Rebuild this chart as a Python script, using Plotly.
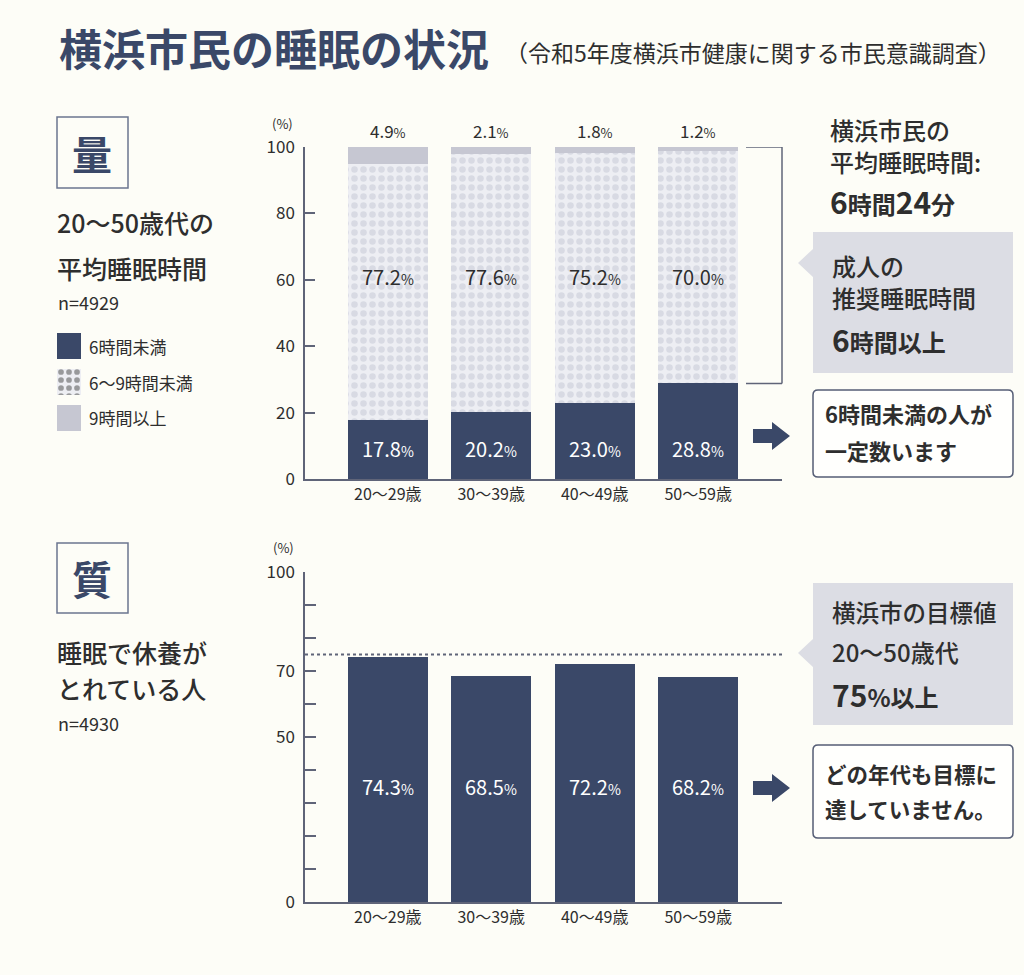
import plotly.graph_objects as go

W, H = 1024, 975


def X(p):
    return p / W


def Y(p):
    return 1 - p / H


# ---------------- data ----------------
age_groups = ["20～29歳", "30～39歳", "40～49歳", "50～59歳"]
sleep_under6 = [17.8, 20.2, 23.0, 28.8]
sleep_6to9 = [77.2, 77.6, 75.2, 70.0]
sleep_over9 = [4.9, 2.1, 1.8, 1.2]
rested = [74.3, 68.5, 72.2, 68.2]
target_rested = 75
top_tickvals = [0, 20, 40, 60, 80, 100]
bottom_tickvals = [0, 10, 20, 30, 40, 50, 60, 70, 80, 90, 100]
bottom_ticktext = ["0", "", "", "", "", "50", "", "70", "", "", "100"]
legend_labels = ["6時間未満", "6～9時間未満", "9時間以上"]
legend_swatch = [1, 1, 1]

# ---------------- styles ----------------
NAVY = "#3A4868"
DOT_BG = "#EDEEF3"
DOT_FG = "#C4C5D3"
GRAY = "#C6C7D2"
BG = "#FDFDF7"
TXT = "#2E2E2E"
LINE = "#5F6478"
FONT = "Noto Sans CJK JP"

fig = go.Figure()

# top stacked chart
fig.add_trace(go.Bar(x=age_groups, y=sleep_under6, width=0.77,
                     marker=dict(color=NAVY, line=dict(width=0)),
                     xaxis="x", yaxis="y", hoverinfo="skip"))
fig.add_trace(go.Bar(x=age_groups, y=sleep_6to9, width=0.77,
                     marker=dict(color=DOT_BG, line=dict(width=0),
                                 pattern=dict(shape=".", fgcolor=DOT_FG, bgcolor=DOT_BG,
                                              size=9, solidity=0.42)),
                     xaxis="x", yaxis="y", hoverinfo="skip"))
fig.add_trace(go.Bar(x=age_groups, y=sleep_over9, width=0.77,
                     marker=dict(color=GRAY, line=dict(width=0)),
                     xaxis="x", yaxis="y", hoverinfo="skip"))

# bottom chart
fig.add_trace(go.Bar(x=age_groups, y=rested, width=0.77,
                     marker=dict(color=NAVY, line=dict(width=0)),
                     xaxis="x2", yaxis="y2", hoverinfo="skip"))

# legend swatches
fig.add_trace(go.Bar(y=legend_labels, x=legend_swatch, orientation="h", width=0.7,
                     marker=dict(color=[NAVY, DOT_BG, GRAY], line=dict(width=0),
                                 pattern=dict(shape=["", ".", ""], fgcolor=DOT_FG,
                                              bgcolor=[NAVY, DOT_BG, GRAY],
                                              size=8, solidity=0.4)),
                     xaxis="x3", yaxis="y3", hoverinfo="skip"))

axis_common = dict(showgrid=False, zeroline=False, showline=True,
                   linecolor=LINE, linewidth=1.5)

fig.update_layout(
    width=W, height=H, autosize=False,
    margin=dict(l=0, r=0, t=0, b=0, pad=0, autoexpand=False),
    paper_bgcolor=BG, plot_bgcolor=BG,
    barmode="stack",
    showlegend=False,
    font=dict(family=FONT, color=TXT),
    xaxis=dict(domain=[X(305), X(782)], range=[-0.80, 3.81], type="category",
               ticks="", tickfont=dict(size=16, color=TXT), anchor="y", **axis_common),
    yaxis=dict(domain=[Y(479), Y(147)], range=[0, 100], tickvals=top_tickvals,
               ticks="inside", ticklen=10, tickwidth=1.5, tickcolor=LINE,
               tickfont=dict(size=17, color=TXT), ticklabelstandoff=5,
               anchor="x", **axis_common),
    xaxis2=dict(domain=[X(305), X(782)], range=[-0.80, 3.81], type="category",
                ticks="", tickfont=dict(size=16, color=TXT), anchor="y2", **axis_common),
    yaxis2=dict(domain=[Y(902), Y(572)], range=[0, 100], tickvals=bottom_tickvals,
                ticktext=bottom_ticktext,
                ticks="inside", ticklen=11, tickwidth=1.5, tickcolor=LINE,
                tickfont=dict(size=17, color=TXT), ticklabelstandoff=5,
                anchor="x2", **axis_common),
    xaxis3=dict(domain=[X(57), X(81)], range=[0, 1], visible=False, anchor="y3"),
    yaxis3=dict(domain=[Y(436), Y(328)], range=[2.5, -0.5], visible=False, anchor="x3"),
)

ann = []


def txt(x, y, text, size, color=TXT, xanchor="left", weight=None):
    f = dict(size=size, color=color, family=FONT)
    if weight:
        f["weight"] = weight
    ann.append(dict(x=X(x), y=Y(y), xref="paper", yref="paper", text=text,
                    showarrow=False, xanchor=xanchor, yanchor="middle", font=f))


def pct(v, small):
    return f"{v:.1f}<span style='font-size:{small}px'>%</span>"


# header
txt(57, 47, "<b>横浜市民の睡眠の状況</b>", 43, NAVY)
txt(503, 52, "（令和5年度横浜市健康に関する市民意識調査）", 23, TXT)

# left panel: quantity
txt(92, 153, "<b>量</b>", 40, NAVY, xanchor="center")
txt(55, 222, "20～50歳代の", 25, TXT, weight=500)
txt(55, 268, "平均睡眠時間", 25, TXT, weight=500)
txt(56, 302, "n=4929", 18, TXT)
for lab, yy in zip(legend_labels, [346, 382, 418]):
    txt(87, yy, lab, 17, TXT)

# left panel: quality
txt(92, 578, "<b>質</b>", 40, NAVY, xanchor="center")
txt(55, 652, "睡眠で休養が", 25, TXT, weight=500)
txt(55, 688, "とれている人", 25, TXT, weight=500)
txt(56, 723, "n=4930", 18, TXT)

# (%) unit labels
txt(282, 124, "(%)", 13, TXT, xanchor="center")
txt(283, 547, "(%)", 13, TXT, xanchor="center")

# value labels
LABEL_Y_MID = 61
LABEL_Y_LOW = 9.3
LABEL_Y_BOTTOM = 35
for i, g in enumerate(age_groups):
    ann.append(dict(x=g, y=100, xref="x", yref="y", yanchor="bottom", yshift=2,
                    showarrow=False, text=pct(sleep_over9[i], 13),
                    font=dict(size=17, color=TXT, family=FONT)))
    ann.append(dict(x=g, y=LABEL_Y_MID, xref="x", yref="y", yanchor="middle",
                    showarrow=False, text=pct(sleep_6to9[i], 14),
                    font=dict(size=20, color=TXT, family=FONT)))
    ann.append(dict(x=g, y=LABEL_Y_LOW, xref="x", yref="y", yanchor="middle",
                    showarrow=False, text=pct(sleep_under6[i], 14),
                    font=dict(size=20, color="white", family=FONT)))
    ann.append(dict(x=g, y=LABEL_Y_BOTTOM, xref="x2", yref="y2", yanchor="middle",
                    showarrow=False, text=pct(rested[i], 14),
                    font=dict(size=20, color="white", family=FONT)))

# right side texts (top)
txt(828, 130, "横浜市民の", 24, TXT, weight=500)
txt(828, 162, "平均睡眠時間:", 24, TXT, weight=500)
txt(828, 201, "<b><span style='font-size:30px'>6</span>時間<span style='font-size:30px'>24</span>分</b>", 24, TXT)
txt(830, 266, "成人の", 24, TXT, weight=500)
txt(830, 298, "推奨睡眠時間", 24, TXT, weight=500)
txt(830, 339, "<b><span style='font-size:30px'>6</span>時間以上</b>", 24, TXT)
txt(823, 413, "<b>6時間未満の人が</b>", 22, TXT)
txt(823, 450, "<b>一定数います</b>", 22, TXT)

# right side texts (bottom)
txt(830, 612, "横浜市の目標値", 23.5, TXT, weight=500)
txt(830, 651, "20～50歳代", 24, TXT, weight=500)
txt(830, 694, "<b><span style='font-size:30px'>75</span>%以上</b>", 24, TXT)
txt(823, 773, "<b>どの年代も目標に</b>", 21.5, TXT)
txt(823, 808, "<b>達していません。</b>", 21.5, TXT)

fig.update_layout(annotations=ann)

# ---------------- shapes ----------------
shapes = []


def P(points, close=True):
    s = "M " + " L ".join(f"{X(a):.5f},{Y(b):.5f}" for a, b in points)
    return s + (" Z" if close else "")


def rrect(x0, y0, x1, y1, r):
    pts = [
        f"M {X(x0 + r):.5f},{Y(y0):.5f}",
        f"L {X(x1 - r):.5f},{Y(y0):.5f}",
        f"Q {X(x1):.5f},{Y(y0):.5f} {X(x1):.5f},{Y(y0 + r):.5f}",
        f"L {X(x1):.5f},{Y(y1 - r):.5f}",
        f"Q {X(x1):.5f},{Y(y1):.5f} {X(x1 - r):.5f},{Y(y1):.5f}",
        f"L {X(x0 + r):.5f},{Y(y1):.5f}",
        f"Q {X(x0):.5f},{Y(y1):.5f} {X(x0):.5f},{Y(y1 - r):.5f}",
        f"L {X(x0):.5f},{Y(y0 + r):.5f}",
        f"Q {X(x0):.5f},{Y(y0):.5f} {X(x0 + r):.5f},{Y(y0):.5f}",
        "Z",
    ]
    return " ".join(pts)


# heading boxes
for y0, y1 in [(117, 188), (543, 613)]:
    shapes.append(dict(type="rect", xref="paper", yref="paper",
                       x0=X(57), x1=X(128), y0=Y(y1), y1=Y(y0),
                       line=dict(color="#6B7590", width=1.5), fillcolor=BG, layer="below"))

# gray callouts with pointer
for (y0, y1, ty) in [(232, 373, 263), (583, 725, 653)]:
    shapes.append(dict(type="path", xref="paper", yref="paper",
                       path=P([(813, y0), (1013, y0), (1013, y1), (813, y1),
                               (813, ty + 14), (798, ty), (813, ty - 14)]),
                       fillcolor="#DCDDE4", line=dict(width=0), layer="below"))

# white outlined boxes
for (y0, y1) in [(390, 477), (745, 838)]:
    shapes.append(dict(type="path", xref="paper", yref="paper",
                       path=rrect(813, y0, 1013, y1, 5),
                       fillcolor="#FFFFFD", line=dict(color="#555D75", width=1.5), layer="below"))

# arrows
for cy in [436, 788]:
    shapes.append(dict(type="path", xref="paper", yref="paper",
                       path=P([(753, cy - 7), (772, cy - 7), (772, cy - 14), (790, cy),
                               (772, cy + 14), (772, cy + 7), (753, cy + 7)]),
                       fillcolor=NAVY, line=dict(width=0)))

# bracket for 6h+ range
bracket_low = max(sleep_under6)
shapes.append(dict(type="line", xref="paper", yref="y", x0=X(746), x1=X(782),
                   y0=100, y1=100, line=dict(color=LINE, width=1.5)))
shapes.append(dict(type="line", xref="paper", yref="y", x0=X(782), x1=X(782),
                   y0=bracket_low, y1=100, line=dict(color=LINE, width=1.5)))
shapes.append(dict(type="line", xref="paper", yref="y", x0=X(746), x1=X(782),
                   y0=bracket_low, y1=bracket_low, line=dict(color=LINE, width=1.5)))

# target line
shapes.append(dict(type="line", xref="paper", yref="y2", x0=X(305), x1=X(785),
                   y0=target_rested, y1=target_rested,
                   line=dict(color=LINE, width=2, dash="dot")))

fig.update_layout(shapes=shapes)

page_fix = ("document.body.style.margin='0';document.body.style.padding='0';"
            "document.body.style.overflow='hidden';"
            "document.body.style.background='" + BG + "';")
fig.write_html("out.html", post_script=page_fix,
               config={"responsive": False, "displayModeBar": False})
